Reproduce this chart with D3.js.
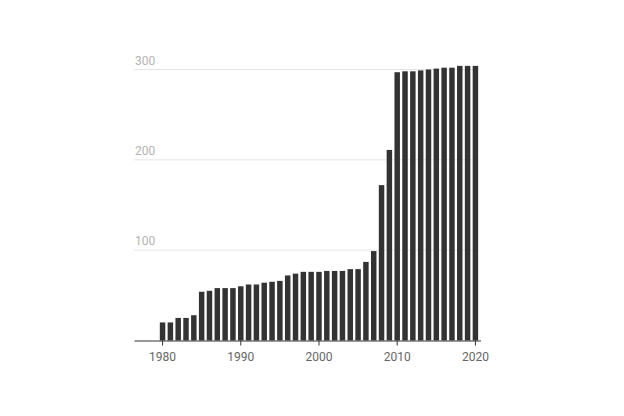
<!DOCTYPE html>
<html>
<head>
<meta charset="utf-8">
<script src="https://cdn.jsdelivr.net/npm/d3@7"></script>
<style>
  body { margin: 0; background: #fff; }
  svg { display: block; font-family: Roboto, "Noto Sans", sans-serif; }
</style>
</head>
<body>
<svg id="chart" width="624" height="416"></svg>
<script>
// axis runs a few empty years before the first bar
var axisYears = d3.range(1977, 2021);
var years = d3.range(1980, 2021);
var values = [
  20, 20, 25, 25, 28, 54, 55, 58, 58, 58,
  60, 62, 62, 64, 65, 66, 72, 74, 76, 76,
  76, 77, 77, 77, 79, 79, 87, 99, 172, 211,
  297, 298, 298, 299, 300, 301, 302, 302, 304, 304, 304
];
var yTicks = [100, 200, 300];
var xTicks = [1980, 1990, 2000, 2010, 2020];

var svg = d3.select('#chart');
// note: "top" is a reserved window prop, so use plot* names
var plotLeft = 134, plotRight = 480.5, plotTop = 69.5, plotBottom = 340.5;

var x = d3.scaleBand().domain(axisYears).range([plotLeft, plotRight]).padding(0.3);
var y = d3.scaleLinear().domain([0, 300]).range([plotBottom, plotTop]);

// gridlines + labels sitting on top of them
var grid = svg.append('g');
grid.selectAll('line').data(yTicks).enter().append('line')
  .attr('x1', plotLeft).attr('x2', plotRight - 2)
  .attr('y1', function (d) { return y(d); })
  .attr('y2', function (d) { return y(d); })
  .attr('stroke', '#e6e6e6').attr('stroke-width', 1);
grid.selectAll('text').data(yTicks).enter().append('text')
  .attr('x', plotLeft + 1)
  .attr('y', function (d) { return y(d) - 5; })
  .attr('font-size', 12)
  .attr('fill', '#b3b3b3')
  .text(function (d) { return d; });

svg.append('g').selectAll('rect').data(values).enter().append('rect')
  .attr('x', function (d, i) { return x(years[i]); })
  .attr('width', x.bandwidth())
  .attr('y', function (d) { return y(d); })
  .attr('height', function (d) { return plotBottom - y(d); })
  .attr('fill', '#333333');

var xAxis = d3.axisBottom(x).tickValues(xTicks).tickSize(5).tickSizeOuter(0).tickPadding(7);
var ax = svg.append('g').attr('transform', 'translate(0,' + plotBottom + ')').call(xAxis);
ax.select('.domain').attr('stroke', '#333');
ax.selectAll('.tick line').attr('stroke', '#333');
ax.selectAll('.tick text')
  .attr('font-size', 12)
  .attr('fill', '#666')
  .attr('font-family', 'Roboto, "Noto Sans", sans-serif');
</script>
</body>
</html>
